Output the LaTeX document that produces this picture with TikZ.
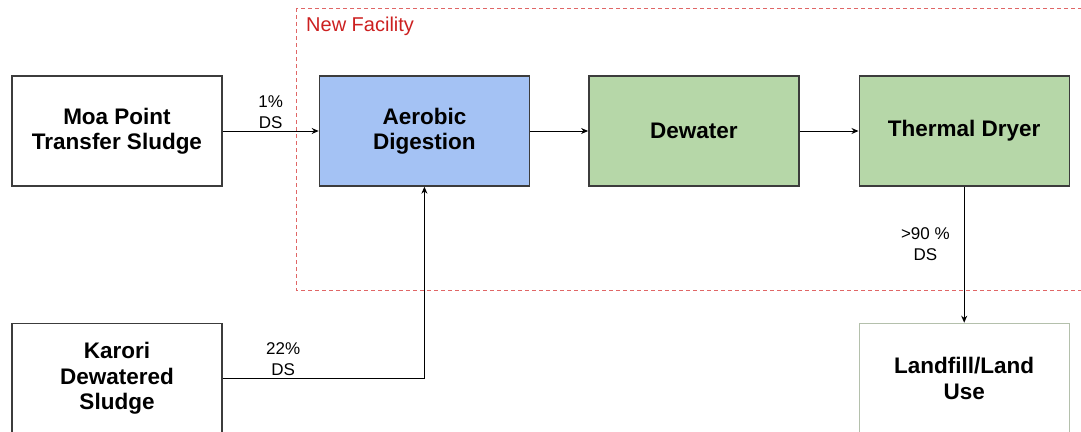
\documentclass[tikz,border=0pt]{standalone}
\usepackage{fontspec}
\setmainfont{Liberation Sans}
\usepackage{xcolor}
\usepackage{tikz}
\usetikzlibrary{arrows.meta, positioning}
\definecolor{digestcolor}{HTML}{A4C2F4}
\definecolor{drycolor}{HTML}{B6D7A8}
\definecolor{edgecolor}{HTML}{3C3C3C}
\definecolor{usecolor}{HTML}{B4C0AC}
\definecolor{facilitycolor}{HTML}{E06666}
\definecolor{facilitytext}{HTML}{CC2020}

\begin{document}
\begin{tikzpicture}[x=1pt, y=-1pt,
    node distance=136pt and 96pt,
    box/.style={draw=edgecolor, line width=1.4pt, minimum width=210pt,
                minimum height=110pt, align=center,
                font=\fontsize{22.5}{25.5}\selectfont\bfseries},
    lbl/.style={align=center, inner sep=2pt, font=\fontsize{17}{21}\selectfont},
    arr/.style={-{Stealth[length=7pt, width=6pt]}, line width=1pt}
]
    \useasboundingbox (0,0) rectangle (1081,431);
    \clip (0,0) rectangle (1081,431);

    % dashed frame round the new plant
    \draw[facilitycolor, line width=0.9pt, dash pattern=on 4pt off 3pt]
        (296,8) rectangle (1100,290);
    \node[anchor=base west, inner sep=0pt, text=facilitytext,
          font=\fontsize{20}{24}\selectfont] (facility) at (306,31) {New Facility};

    \node[box, fill=white] (moa) at (117,131) {Moa Point\\Transfer Sludge};
    \node[box, fill=digestcolor, right=96pt of moa] (aerobic) {Aerobic\\Digestion};
    \node[box, fill=drycolor, right=58pt of aerobic] (dewater) {Dewater};
    \node[box, fill=drycolor, right=59pt of dewater] (thermal) {Thermal Dryer};
    \node[box, fill=white, below=of moa] (karori) {Karori\\Dewatered\\Sludge};
    \node[box, fill=white, draw=usecolor, below=of thermal] (landfill) {Landfill/Land\\Use};

    \draw[arr] (moa) -- node[lbl, above] {1\%\\DS} (aerobic);
    \draw[arr] (aerobic) -- (dewater);
    \draw[arr] (dewater) -- (thermal);
    \draw[arr] (karori.east) -| node[lbl, above, pos=0.15] {22\%\\DS} (aerobic.south);
    \draw[arr] (thermal) -- node[lbl, left=12pt, pos=0.42] {>90 \%\\DS} (landfill);
\end{tikzpicture}
\end{document}
